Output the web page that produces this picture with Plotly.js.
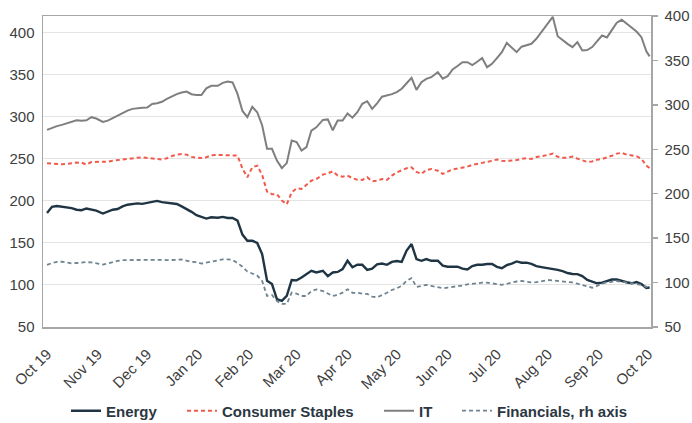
<!DOCTYPE html>
<html>
<head>
<meta charset="utf-8">
<script src="https://cdn.plot.ly/plotly-3.0.1.min.js"></script>
<style>
  html, body { margin: 0; padding: 0; background: #ffffff; }
  #chart { width: 692px; height: 423px; }
</style>
</head>
<body>
<div id="chart"></div>
<script>
// Dates (approx. every 3 days), Oct 2019 - Oct 2020
const dates = [
  '2019-10-01','2019-10-04','2019-10-07','2019-10-10','2019-10-13','2019-10-16','2019-10-19','2019-10-22','2019-10-25','2019-10-28',
  '2019-10-31','2019-11-04','2019-11-07','2019-11-10','2019-11-13','2019-11-16','2019-11-19','2019-11-22','2019-11-25','2019-11-28',
  '2019-12-01','2019-12-04','2019-12-07','2019-12-10','2019-12-13','2019-12-16','2019-12-19','2019-12-22','2019-12-25','2019-12-28',
  '2019-12-31','2020-01-03','2020-01-06','2020-01-09','2020-01-13','2020-01-16','2020-01-19','2020-01-22','2020-01-25','2020-01-28',
  '2020-01-31','2020-02-03','2020-02-06','2020-02-09','2020-02-12','2020-02-15','2020-02-18','2020-02-21','2020-02-24','2020-02-27',
  '2020-03-01','2020-03-04','2020-03-07','2020-03-10','2020-03-13','2020-03-17','2020-03-20','2020-03-23','2020-03-26','2020-03-29',
  '2020-04-01','2020-04-04','2020-04-07','2020-04-10','2020-04-13','2020-04-16','2020-04-19','2020-04-22','2020-04-25','2020-04-28',
  '2020-05-01','2020-05-04','2020-05-07','2020-05-10','2020-05-13','2020-05-16','2020-05-19','2020-05-22','2020-05-26','2020-05-29',
  '2020-06-01','2020-06-04','2020-06-07','2020-06-10','2020-06-13','2020-06-16','2020-06-19','2020-06-22','2020-06-25','2020-06-28',
  '2020-07-01','2020-07-04','2020-07-07','2020-07-10','2020-07-13','2020-07-16','2020-07-19','2020-07-22','2020-07-25','2020-07-29',
  '2020-08-01','2020-08-04','2020-08-07','2020-08-10','2020-08-13','2020-08-16','2020-08-19','2020-08-22','2020-08-25','2020-08-28',
  '2020-08-31','2020-09-03','2020-09-06','2020-09-09','2020-09-12','2020-09-15','2020-09-18','2020-09-21','2020-09-24','2020-09-27',
  '2020-09-30','2020-10-02'
];

const energy = [
  185.6,193,194,193,192.4,191.5,189.5,189,191,190,
  188.4,185,187.5,189.5,190.4,193.5,195.5,196.5,197.1,196.5,
  197.5,198.8,200,198.5,197.5,197,196.3,193.5,190.5,187,
  183,181,179,180.5,180,181,179.7,179.7,176.5,160,
  152.7,152.7,150,136.8,105,101,83.1,81.1,87,106,
  105.5,108.9,112.9,116.9,114.9,116.9,110.5,114.9,115.5,118.9,
  128.8,121,124,124,118,119.5,124.5,125.5,124,127.5,
  128.5,127.5,141,148.7,130.8,128.8,130.8,128.8,128.8,122.9,
  121.7,121.7,121.7,119.5,118.5,122.5,124,124,125,124.9,
  121.5,120,123.5,125.5,128,126.5,126.5,125,122.5,121,
  120.3,119.2,118,116.5,114.2,113,112.9,110.5,106,104,
  102,102.8,104.5,106.5,106.5,104.5,103.2,102,103.5,101,
  96.5,97
];

const consumerStaples = [
  244.8,244.2,243.5,243.5,244,245,245.6,245.5,243.2,246.2,
  246.4,246.2,246.8,247.8,248.6,249.4,250.3,250.6,251.4,251.7,
  251.1,250.1,249.2,249.3,250.7,253.4,255,255.7,255.1,252.4,
  251.5,251,252,254.2,254.7,254.7,254.7,254.3,253.9,238.5,
  228.1,240,242,231,211,208,208,200.5,196,210.2,
  215,214.2,219.3,224.1,226.1,231.3,232.8,235.2,230.1,228.9,
  230.1,227,225.3,225,228.1,223.3,224.1,226.1,224.9,230.1,
  234,236.8,238.8,240,234.5,232.1,236.8,238,236,232.1,
  235.2,237.6,238.5,239.5,240.8,242.8,244,245.2,246,247.7,
  249.3,247.7,247.5,248,248.6,250,250.8,249.9,252.2,253.4,
  255,256.3,252.5,251.5,251.5,252.7,250.3,248,246.4,247,
  249,249.9,251.5,253.7,256.3,257.2,255.1,254,253.2,250,
  242,239
];

const it = [
  284.5,287,289,290.5,292.4,294.5,296,295.5,296,299.6,
  298,294,295.5,298.5,301.5,305,307.5,309.5,310.5,310.7,
  311,315.4,316.2,318,321.4,324.5,327,329,330.1,327,
  326,326,334,337,337,340.5,342,341,327.3,307,
  299.6,312,305.5,290,262,262,248,239,245,271.8,
  270,259.9,264,283.7,287.6,296.4,297,284,295.6,295.6,
  304,299,305.5,315.5,318.6,309.5,316,324,325.5,327,
  329.5,333.5,340,346.5,332.1,341.2,345.2,347.2,353.2,345.5,
  348.5,356.5,360.5,365,365,361.5,365.5,370,359.1,363.1,
  370,377,388,382.9,377,383.5,385.5,386.9,392.9,402.8,
  410.7,419,396,390.9,386.9,382.9,388.9,378.9,379.5,383,
  389.5,396.8,394.5,403.5,412,415.5,411,406.7,401.5,394.8,
  378,372
];

// Financials, plotted on the right-hand axis
const financials = [
  119.9,122,123.2,123.5,122.6,121.6,122,122.7,123,122.7,
  122,120.3,121.5,123.1,124.4,125.3,125.5,125.4,125.1,125.4,
  125.5,125.6,125.9,125.6,125.3,125.2,125.5,126.2,124.7,123.3,
  123,121.4,122.4,123.6,124.9,126.2,126.2,125.4,122,117.8,
  112.4,109.8,107.9,101.8,84.9,86,79.2,76,76,88.7,
  87.6,84.9,84.9,90.5,92.4,90.5,87.6,84.9,86,88.7,
  92.4,88.5,88.5,87.4,87.3,84.2,83.5,85.7,88.5,91.7,
  93.6,96.4,102,105,95.1,96.2,97.3,96.2,95.1,93.6,
  94.4,95,95.7,96.7,98,98.7,99.4,99.9,99.9,99,
  98.2,97.5,98.6,100,101.2,101.8,100.8,100.2,100.4,101.8,
  102.9,102.5,102.1,101.6,101,100.1,98.8,97.3,95.2,94.2,
  96.3,98.8,100.3,101.3,101.6,101,100.1,99.3,98.4,97.3,
  95.1,93.6
];

const seriesNames = ['Energy', 'Consumer Staples', 'IT', 'Financials, rh axis'];
const yTicks = [50, 100, 150, 200, 250, 300, 350, 400];

const FONT = 'Liberation Sans, Arial, sans-serif';
const TXT = '#404040';
const LEGEND_FONT = { family: FONT, size: 15, color: '#2b3742', weight: 'bold' };

const traces = [
  { x: dates, y: energy, name: seriesNames[0], type: 'scatter', mode: 'lines', legend: 'legend',
    line: { color: '#1f3544', width: 2.4 } },
  { x: dates, y: consumerStaples, name: seriesNames[1], type: 'scatter', mode: 'lines', legend: 'legend2',
    line: { color: '#f2594b', width: 2, dash: '4px,3px' } },
  { x: dates, y: it, name: seriesNames[2], type: 'scatter', mode: 'lines', legend: 'legend3',
    line: { color: '#7f7f7f', width: 2 } },
  { x: dates, y: financials, name: seriesNames[3], type: 'scatter', mode: 'lines', yaxis: 'y2', legend: 'legend4',
    line: { color: '#6f8490', width: 1.8, dash: '4px,3px' } }
];

function legendAt(xp) {
  return { orientation: 'h', x: xp, xanchor: 'left', y: -0.27, yanchor: 'middle',
           font: LEGEND_FONT, bgcolor: 'rgba(0,0,0,0)', borderwidth: 0 };
}

const layout = {
  width: 692, height: 423,
  margin: { l: 43, r: 41, t: 16, b: 96, pad: 0, autoexpand: false },
  paper_bgcolor: '#ffffff', plot_bgcolor: '#ffffff',
  font: { family: FONT, size: 14, color: TXT },
  showlegend: true,
  legend: legendAt(0.0378),
  legend2: legendAt(0.2286),
  legend3: legendAt(0.5526),
  legend4: legendAt(0.6809),
  xaxis: {
    type: 'date',
    range: ['2019-09-28 13:00', '2020-10-02 20:00'],
    tick0: '2019-10-01', dtick: 'M1', tickformat: '%b %y',
    tickangle: -45, ticks: '',
    tickfont: { family: FONT, size: 15, color: TXT },
    ticklabelstandoff: 11,
    showgrid: false, zeroline: false,
    showline: true, linecolor: '#a6a6a6', linewidth: 1.5, mirror: true
  },
  yaxis: {
    range: [50, 420], tickvals: yTicks,
    showgrid: true, gridcolor: '#e3e3e3', gridwidth: 1,
    zeroline: false, ticks: '',
    showline: true, linecolor: '#a6a6a6', linewidth: 1.5,
    tickfont: { family: FONT, size: 15, color: TXT },
    ticklabelstandoff: 4
  },
  yaxis2: {
    overlaying: 'y', side: 'right',
    range: [50, 400], tickvals: yTicks,
    showgrid: false, zeroline: false,
    ticks: 'outside', ticklen: 5, tickcolor: '#a6a6a6', tickwidth: 1.5,
    showline: true, linecolor: '#a6a6a6', linewidth: 1.5,
    tickfont: { family: FONT, size: 15, color: TXT },
    ticklabelstandoff: 4
  }
};

Plotly.newPlot('chart', traces, layout, { staticPlot: true, displayModeBar: false });
</script>
</body>
</html>
